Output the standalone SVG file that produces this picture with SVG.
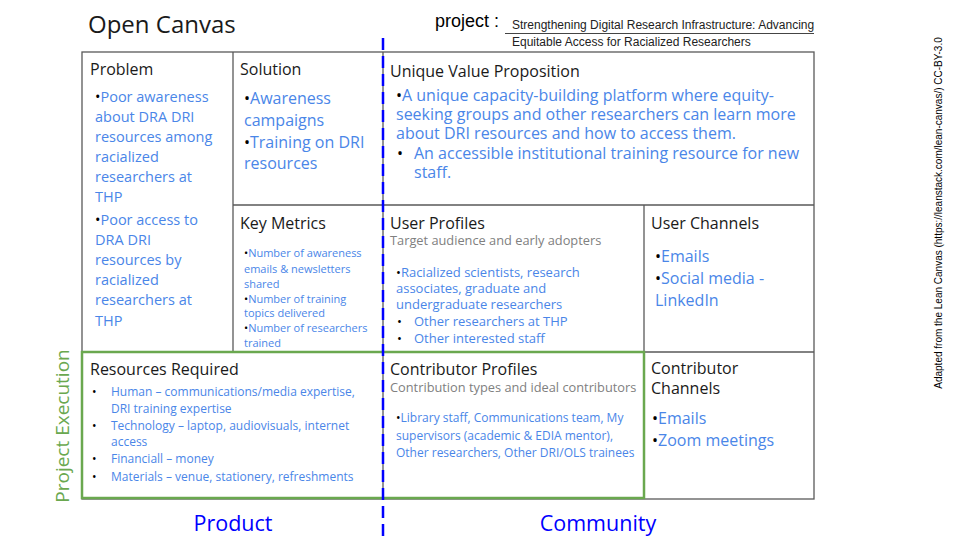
<svg xmlns="http://www.w3.org/2000/svg" width="960" height="540" viewBox="0 0 960 540">
<style>
.h{font-family:"Open Sans","Noto Sans",sans-serif;fill:#1a1a1a;font-size:16px}
.b{font-family:"Open Sans","Noto Sans",sans-serif;fill:#4a86e8}
.k{fill:#000}
.g{font-family:"Open Sans","Noto Sans",sans-serif;fill:#808080;font-size:12.8px}
.ln{stroke:#595959;stroke-width:1.3;fill:none}
.a{font-family:"Liberation Sans",Arial,sans-serif}
</style>
<rect width="960" height="540" fill="#fff"/>
<text x="88" y="33" class="h" style="font-size:24px">Open Canvas</text>
<text x="435" y="27" class="a" font-size="18" fill="#000">project :</text>
<text x="512" y="29" class="a" font-size="12" fill="#222">Strengthening Digital Research Infrastructure: Advancing</text>
<line x1="505" y1="33.5" x2="814" y2="33.5" stroke="#444" stroke-width="1"/>
<text x="512" y="46" class="a" font-size="12" fill="#222">Equitable Access for Racialized Researchers</text>

<g id="grid">
<rect x="82" y="52" width="732" height="447" class="ln"/>
<line x1="233" y1="52" x2="233" y2="352" class="ln"/>
<line x1="233" y1="205" x2="814" y2="205" class="ln"/>
<line x1="82" y1="352" x2="814" y2="352" class="ln"/>
<line x1="644" y1="205" x2="644" y2="499" class="ln"/>
<line x1="383" y1="52" x2="383" y2="499" class="ln"/>
</g>

<g id="problem">
<text x="90" y="75" class="h">Problem</text>
<g class="b" font-size="14.5">
<text x="95" y="102"><tspan class="k">•</tspan>Poor awareness</text>
<text x="95" y="122">about DRA DRI</text>
<text x="95" y="142">resources among</text>
<text x="95" y="162">racialized</text>
<text x="95" y="182">researchers at</text>
<text x="95" y="202">THP</text>
<text x="95" y="225"><tspan class="k">•</tspan>Poor access to</text>
<text x="95" y="245">DRA DRI</text>
<text x="95" y="265">resources by</text>
<text x="95" y="285">racialized</text>
<text x="95" y="305">researchers at</text>
<text x="95" y="326">THP</text>
</g>
</g>

<g id="solution">
<text x="240" y="75" class="h">Solution</text>
<g class="b" font-size="16">
<text x="244" y="104"><tspan class="k">•</tspan>Awareness</text>
<text x="244" y="126">campaigns</text>
<text x="244" y="148"><tspan class="k">•</tspan>Training on DRI</text>
<text x="244" y="169">resources</text>
</g>
</g>

<g id="uvp">
<text x="390" y="77" class="h">Unique Value Proposition</text>
<g class="b" font-size="16">
<text x="396" y="101"><tspan class="k">•</tspan>A unique capacity-building platform where equity-</text>
<text x="396" y="120">seeking groups and other researchers can learn more</text>
<text x="396" y="139">about DRI resources and how to access them.</text>
<text x="397" y="159" class="k">•</text>
<text x="414" y="159">An accessible institutional training resource for new</text>
<text x="414" y="178">staff.</text>
</g>
</g>

<g id="key-metrics">
<text x="240" y="229" class="h">Key Metrics</text>
<g class="b" font-size="11">
<text x="244" y="257"><tspan class="k">•</tspan>Number of awareness</text>
<text x="244" y="273">emails &amp; newsletters</text>
<text x="244" y="288">shared</text>
<text x="244" y="303"><tspan class="k">•</tspan>Number of training</text>
<text x="244" y="317">topics delivered</text>
<text x="244" y="332"><tspan class="k">•</tspan>Number of researchers</text>
<text x="244" y="347">trained</text>
</g>
</g>

<g id="user-profiles">
<text x="390" y="229" class="h">User Profiles</text>
<text x="390" y="245" class="g">Target audience and early adopters</text>
<g class="b" font-size="13">
<text x="396" y="277"><tspan class="k">•</tspan>Racialized scientists, research</text>
<text x="396" y="293">associates, graduate and</text>
<text x="396" y="309">undergraduate researchers</text>
<text x="397" y="326" class="k">•</text>
<text x="414" y="326">Other researchers at THP</text>
<text x="397" y="343" class="k">•</text>
<text x="414" y="343">Other interested staff</text>
</g>
</g>

<g id="user-channels">
<text x="651" y="229" class="h">User Channels</text>
<g class="b" font-size="16">
<text x="655" y="262"><tspan class="k">•</tspan>Emails</text>
<text x="655" y="284"><tspan class="k">•</tspan>Social media -</text>
<text x="655" y="306">LinkedIn</text>
</g>
</g>

<g id="resources">
<text x="90" y="375" class="h">Resources Required</text>
<g class="b" font-size="12">
<text x="92" y="396" class="k">•</text>
<text x="111" y="396">Human – communications/media expertise,</text>
<text x="111" y="413">DRI training expertise</text>
<text x="92" y="430" class="k">•</text>
<text x="111" y="430">Technology – laptop, audiovisuals, internet</text>
<text x="111" y="446">access</text>
<text x="92" y="463" class="k">•</text>
<text x="111" y="463">Financiall – money</text>
<text x="92" y="481" class="k">•</text>
<text x="111" y="481">Materials – venue, stationery, refreshments</text>
</g>
</g>

<g id="contributor-profiles">
<text x="390" y="375" class="h">Contributor Profiles</text>
<text x="390" y="392" class="g">Contribution types and ideal contributors</text>
<g class="b" font-size="12">
<text x="396" y="422"><tspan class="k">•</tspan>Library staff, Communications team, My</text>
<text x="396" y="440">supervisors (academic &amp; EDIA mentor),</text>
<text x="396" y="457">Other researchers, Other DRI/OLS trainees</text>
</g>
</g>

<g id="contributor-channels">
<text x="651" y="374" class="h">Contributor</text>
<text x="651" y="394" class="h">Channels</text>
<g class="b" font-size="16">
<text x="652" y="424"><tspan class="k">•</tspan>Emails</text>
<text x="652" y="446"><tspan class="k">•</tspan>Zoom meetings</text>
</g>
</g>

<g id="connectors">
<rect x="82" y="352" width="562" height="146" fill="none" stroke="#6aa84f" stroke-width="2.5"/>
<line x1="383" y1="38" x2="383" y2="540" stroke="#0000ff" stroke-width="2.5" stroke-dasharray="12,6"/>
</g>

<text x="233" y="531" text-anchor="middle" font-family="Open Sans,Noto Sans,sans-serif" font-size="21.5" fill="#0000ff">Product</text>
<text x="598" y="531" text-anchor="middle" font-family="Open Sans,Noto Sans,sans-serif" font-size="21.5" fill="#0000ff">Community</text>
<text transform="translate(69,426) rotate(-90)" text-anchor="middle" font-family="Open Sans,Noto Sans,sans-serif" font-size="19" fill="#6aa84f">Project Execution</text>
<text transform="translate(942,213) rotate(-90)" text-anchor="middle" class="a" font-size="10" fill="#000">Adapted from the Lean Canvas (https://leanstack.com/lean-canvas/) CC-BY-3.0</text>
</svg>
